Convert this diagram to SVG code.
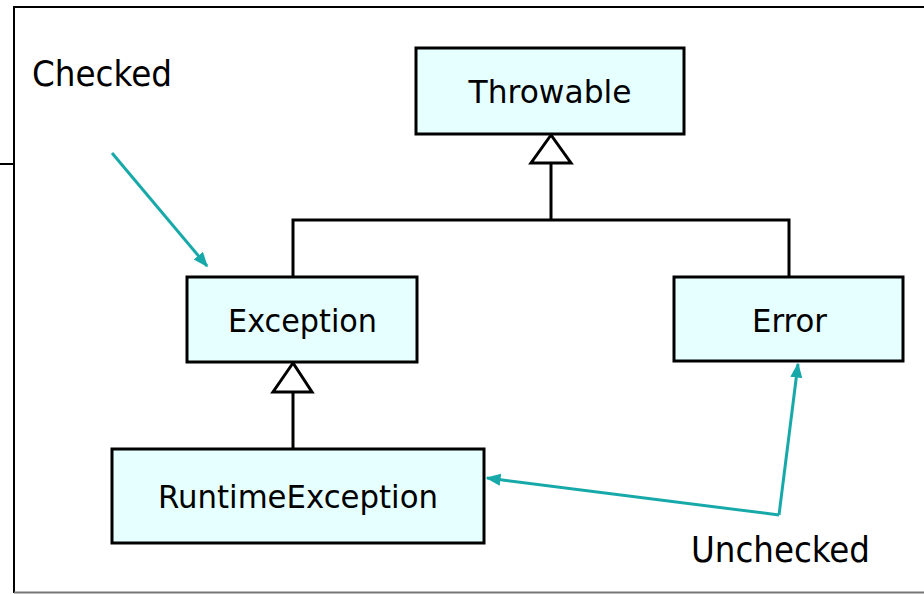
<svg xmlns="http://www.w3.org/2000/svg" width="924" height="594" viewBox="0 0 924 594">
<style>
.box{fill:#e6ffff;stroke:#000;stroke-width:3}
.lbl{font-family:"DejaVu Sans",Verdana,sans-serif;font-size:32px;fill:#000;text-anchor:middle}
.note{font-family:"DejaVu Sans Condensed","DejaVu Sans",sans-serif;font-size:36px;fill:#000}
.inh{fill:none;stroke:#000;stroke-width:3}
.tri{fill:#fff;stroke:#000;stroke-width:3;stroke-linejoin:miter}
.teal{fill:none;stroke:#17a9a9;stroke-width:3;stroke-linejoin:miter}
</style>
<defs>
<marker id="ah" viewBox="0 0 10 10" refX="9" refY="5" markerWidth="5" markerHeight="5" orient="auto" markerUnits="strokeWidth">
<path d="M0,1 L10,5 L0,9 Z" fill="#17a9a9"/>
</marker>
</defs>
<rect width="924" height="594" fill="#fff"/>
<g id="frame">
<path d="M14,593 L14,7 L924,7" fill="none" stroke="#000" stroke-width="2"/>
<path d="M0,164 L14,164" fill="none" stroke="#000" stroke-width="2"/>
<path d="M14,592.5 L924,592.5" fill="none" stroke="#777" stroke-width="2"/>
</g>
<g id="connectors">
<path class="inh" d="M551,163 L551,220 M293,277 L293,220 L789,220 L789,277"/>
<path class="tri" d="M551,135 L531,163 L571,163 Z"/>
<path class="inh" d="M293,392 L293,449"/>
<path class="tri" d="M293,363 L273,392 L312,392 Z"/>
<path class="teal" d="M112,153 L207,266" marker-end="url(#ah)"/>
<path class="teal" d="M779,515 L487,478" marker-end="url(#ah)"/>
<path class="teal" d="M779,515 L798,364" marker-end="url(#ah)"/>
</g>
<g id="throwable">
<rect class="box" x="416" y="48" width="268" height="86"/>
<text class="lbl" x="550" y="103" textLength="163" lengthAdjust="spacingAndGlyphs">Throwable</text>
</g>
<g id="exception">
<rect class="box" x="187" y="277" width="230" height="85"/>
<text class="lbl" x="302.5" y="332" textLength="149" lengthAdjust="spacingAndGlyphs">Exception</text>
</g>
<g id="error">
<rect class="box" x="674" y="277" width="229" height="84"/>
<text class="lbl" x="789.5" y="332" textLength="75" lengthAdjust="spacingAndGlyphs">Error</text>
</g>
<g id="runtimeexception">
<rect class="box" x="112" y="449" width="372" height="94"/>
<text class="lbl" x="298" y="508" textLength="280" lengthAdjust="spacingAndGlyphs">RuntimeException</text>
</g>
<g id="checked">
<text class="note" x="32" y="86" textLength="140" lengthAdjust="spacingAndGlyphs">Checked</text>
</g>
<g id="unchecked">
<text class="note" x="691" y="562" textLength="179" lengthAdjust="spacingAndGlyphs">Unchecked</text>
</g>
</svg>
